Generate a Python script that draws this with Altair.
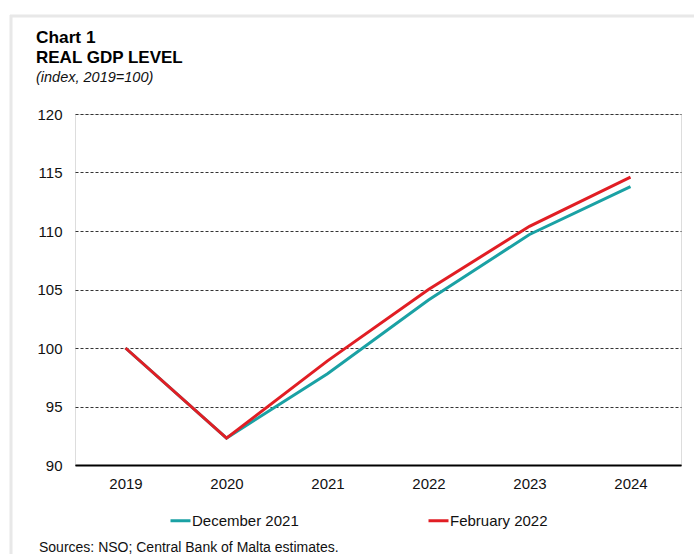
import altair as alt
import pandas as pd

years = ["2019", "2020", "2021", "2022", "2023", "2024"]
dec_2021 = [100.0, 92.3, 97.8, 104.1, 109.7, 113.8]
feb_2022 = [100.0, 92.3, 98.9, 105.0, 110.4, 114.6]
series_names = ["December 2021", "February 2022"]
series_colors = ["#1AA1A4", "#E11E24"]
y_ticks = [90, 95, 100, 105, 110, 115, 120]

title_lines = ["Chart 1", "REAL GDP LEVEL"]
subtitle = "(index, 2019=100)"
source_note = "Sources: NSO; Central Bank of Malta estimates."

rows = []
for name, vals in zip(series_names, [dec_2021, feb_2022]):
    for y, v in zip(years, vals):
        rows.append({"year": y, "value": v, "series": name})
df = pd.DataFrame(rows)

W, H = 606, 351
FONT = "Liberation Sans"

lines = alt.Chart(df).mark_line(strokeWidth=3).encode(
    x=alt.X("year:O", sort=years, scale=alt.Scale(type="point", padding=0.5),
            axis=alt.Axis(title=None, labelAngle=0, ticks=False, domainColor="black",
                          domainWidth=2, labelPadding=11, labelFontSize=15,
                          labelFont=FONT, labelColor="#111", grid=False)),
    y=alt.Y("value:Q", scale=alt.Scale(domain=[90, 120], nice=False, zero=False),
            axis=alt.Axis(title=None, values=y_ticks, ticks=False, domain=False,
                          labelPadding=13, labelFontSize=15, labelFont=FONT,
                          labelColor="#111", grid=True, gridColor="#333",
                          gridDash=[3, 2], gridWidth=1)),
    color=alt.Color("series:N", sort=series_names,
                    scale=alt.Scale(domain=series_names, range=series_colors),
                    legend=alt.Legend(title=None, orient="none", legendX=94, legendY=395,
                                      direction="horizontal", columns=2,
                                      columnPadding=123, symbolType="stroke",
                                      symbolSize=400, symbolStrokeWidth=3,
                                      labelOffset=0, labelFontSize=15, labelFont=FONT,
                                      labelColor="#111", padding=0)),
    detail="series:N",
)

def text_layer(txt, x, y, size, weight="normal", style="normal", color="#000"):
    d = pd.DataFrame({"t": [txt]})
    return alt.Chart(d).mark_text(align="left", baseline="alphabetic", fontSize=size,
                                  font=FONT, fontWeight=weight, fontStyle=style,
                                  color=color).encode(
        text="t:N", x=alt.value(x), y=alt.value(y))

t1 = text_layer(title_lines[0], -39, -71.5, 17.3, weight="bold")
t2 = text_layer(title_lines[1], -39, -51, 17, weight="bold")
t3 = text_layer(subtitle, -39, -32, 14.5, style="italic", color="#111")
source = text_layer(source_note, -36, 438, 14, color="#111")

border = pd.DataFrame({"k": [1]})
left_border = alt.Chart(border).mark_rule(color="#e8e8e8", strokeWidth=3).encode(
    x=alt.value(-64), y=alt.value(-99), y2=alt.value(445))
top_border = alt.Chart(border).mark_rule(color="#e8e8e8", strokeWidth=3).encode(
    x=alt.value(-65), x2=alt.value(625), y=alt.value(-98))

chart = alt.layer(left_border, top_border, lines, t1, t2, t3, source).properties(
    width=W, height=H,
    autosize=alt.AutoSizeParams(type="none"),
    padding={"left": 75, "top": 114, "right": 13, "bottom": 89},
).configure_view(stroke=None).configure(background="white")

chart.save("out.html", embed_options={"renderer": "svg", "actions": False})
